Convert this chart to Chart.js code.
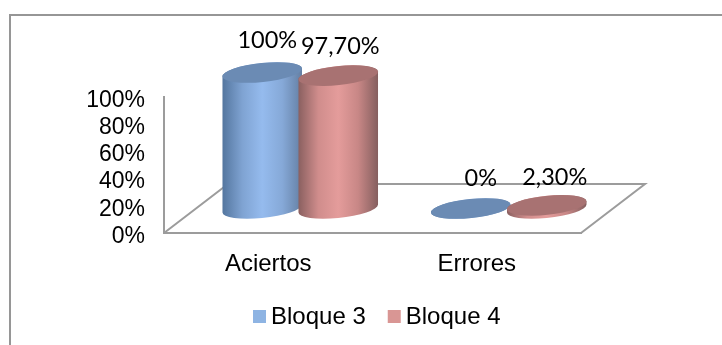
<!DOCTYPE html>
<html>
<head>
<meta charset="utf-8">
<style>
    html, body { margin: 0; padding: 0; background: #fff; }
    canvas { display: block; }
</style>
<script src="https://cdn.jsdelivr.net/npm/chart.js@4"></script>
</head>
<body>
<canvas id="cylChart" width="722" height="345"></canvas>
<script>
var categories = ["Aciertos", "Errores"];
var seriesNames = ["Bloque 3", "Bloque 4"];
var bloque3 = [100, 0];
var bloque4 = [97.7, 2.3];
var bloque3Labels = ["100%", "0%"];
var bloque4Labels = ["97,70%", "2,30%"];

const AXIS_FONT = "Liberation Sans, Arial, sans-serif";
const LABEL_FONT = "Lato, sans-serif";
const LINE_GREY = "#9c9c9c";

// how far the floor runs back, in pixels
const DEPTH_X = 64;
const DEPTH_Y = 49;
const TILT = -6 * Math.PI / 180;

const bodyShades = [
    ["#54769f", "#7fa3d2", "#95bbee", "#86a9d8", "#647fa3"],
    ["#8a6060", "#d08d8c", "#e49c9b", "#c88786", "#855f5f"]
];
const capColors = ["#6b8bb4", "#a87272"];
const valueLabels = [bloque3Labels, bloque4Labels];
const labelNudge = [[[5, -32], [10, -30]], [[2, -29], [8, -28]]];

function drawCylinder(ctx, bar, shades, capColor) {
    const a = bar.width / 2;
    const b = 9.5;
    const cx = bar.x + DEPTH_X / 2;
    const yTop = bar.y - DEPTH_Y / 2;
    const yBase = bar.base - DEPTH_Y / 2;
    const side = Math.atan2(-b * Math.sin(TILT), a * Math.cos(TILT));
    const halfX = Math.sqrt(a * a * Math.cos(TILT) ** 2 + b * b * Math.sin(TILT) ** 2);

    const grad = ctx.createLinearGradient(cx - halfX, 0, cx + halfX, 0);
    shades.forEach((c, i) => grad.addColorStop(i / (shades.length - 1), c));

    ctx.beginPath();
    ctx.ellipse(cx, yBase, a, b, TILT, side, side + Math.PI);
    ctx.ellipse(cx, yTop, a, b, TILT, side + Math.PI, side + 2 * Math.PI);
    ctx.closePath();
    ctx.fillStyle = grad;
    ctx.fill();

    ctx.beginPath();
    ctx.ellipse(cx, yTop, a, b, TILT, 0, 2 * Math.PI);
    ctx.fillStyle = capColor;
    ctx.fill();
}

const cylinderPlugin = {
    id: "cylinders",
    beforeDraw(chart) {
        // outer border, only top and left are there
        const ctx = chart.ctx;
        ctx.save();
        ctx.strokeStyle = "#969696";
        ctx.lineWidth = 2;
        ctx.beginPath();
        ctx.moveTo(10, 345);
        ctx.lineTo(10, 15);
        ctx.lineTo(722, 15);
        ctx.stroke();
        ctx.restore();
    },
    beforeDatasetsDraw(chart) {
        // floor lines behind the cylinders
        const ctx = chart.ctx;
        const area = chart.chartArea;
        ctx.save();
        ctx.strokeStyle = LINE_GREY;
        ctx.lineWidth = 2;
        ctx.beginPath();
        ctx.moveTo(area.left, area.bottom);
        ctx.lineTo(area.left + DEPTH_X, area.bottom - DEPTH_Y);
        ctx.lineTo(area.right + DEPTH_X, area.bottom - DEPTH_Y);
        ctx.lineTo(area.right, area.bottom);
        ctx.stroke();

        // y tick labels sit a little under their tick position
        const yScale = chart.scales.y;
        ctx.fillStyle = "#000";
        ctx.font = "23px " + AXIS_FONT;
        ctx.textAlign = "right";
        ctx.textBaseline = "middle";
        yScale.ticks.forEach((tick, i) => {
            ctx.fillText(tick.value + "%", yScale.right - 19, yScale.getPixelForTick(i) + 3.5);
        });
        ctx.restore();
    },
    beforeDatasetDraw() {
        return false;
    },
    afterDatasetsDraw(chart) {
        const ctx = chart.ctx;
        chart.data.datasets.forEach((ds, i) => {
            chart.getDatasetMeta(i).data.forEach(bar => {
                drawCylinder(ctx, bar, bodyShades[i], capColors[i]);
            });
        });

        ctx.save();
        ctx.fillStyle = "#000";
        ctx.font = "23.5px " + LABEL_FONT;
        ctx.textAlign = "center";
        ctx.textBaseline = "middle";
        chart.data.datasets.forEach((ds, i) => {
            chart.getDatasetMeta(i).data.forEach((bar, j) => {
                const nudge = labelNudge[i][j];
                ctx.fillText(valueLabels[i][j], bar.x + DEPTH_X / 2 + nudge[0], bar.y - DEPTH_Y / 2 + nudge[1]);
            });
        });
        ctx.restore();
    },
    afterDraw(chart) {
        // legend with a tighter swatch gap than the built in one
        const ctx = chart.ctx;
        const swatch = 13;
        const legendY = 316.5;
        let x = 253;
        ctx.save();
        ctx.font = "24px " + AXIS_FONT;
        ctx.textBaseline = "middle";
        ctx.textAlign = "left";
        chart.data.datasets.forEach(ds => {
            ctx.fillStyle = ds.backgroundColor;
            ctx.fillRect(x, legendY - swatch / 2, swatch, swatch);
            ctx.fillStyle = "#000";
            ctx.fillText(ds.label, x + swatch + 5, legendY + 1);
            x += swatch + 5 + ctx.measureText(ds.label).width + 22;
        });
        ctx.restore();
    }
};

new Chart(document.getElementById("cylChart").getContext("2d"), {
    type: "bar",
    data: {
        labels: categories,
        datasets: [
            { label: seriesNames[0], data: bloque3, backgroundColor: "#8eb4e3" },
            { label: seriesNames[1], data: bloque4, backgroundColor: "#d99694" }
        ]
    },
    options: {
        responsive: false,
        animation: false,
        events: [],
        categoryPercentage: 0.729,
        barPercentage: 1.052,
        layout: {
            padding: { top: 97, right: 141, left: 0, bottom: 0 }
        },
        plugins: {
            legend: { display: false },
            tooltip: { enabled: false }
        },
        scales: {
            x: {
                grid: { display: false, drawTicks: false },
                border: { color: LINE_GREY, width: 2 },
                ticks: {
                    color: "#000",
                    padding: 17,
                    maxRotation: 0,
                    font: { family: AXIS_FONT, size: 24 }
                },
                afterFit(scale) { scale.height = 112; }
            },
            y: {
                min: 0,
                max: 100,
                grid: { display: false, drawTicks: false },
                border: { color: LINE_GREY, width: 2 },
                ticks: {
                    display: false,
                    stepSize: 20,
                    autoSkip: false
                },
                afterFit(scale) { scale.width = 164; }
            }
        }
    },
    plugins: [cylinderPlugin]
});
</script>
</body>
</html>
